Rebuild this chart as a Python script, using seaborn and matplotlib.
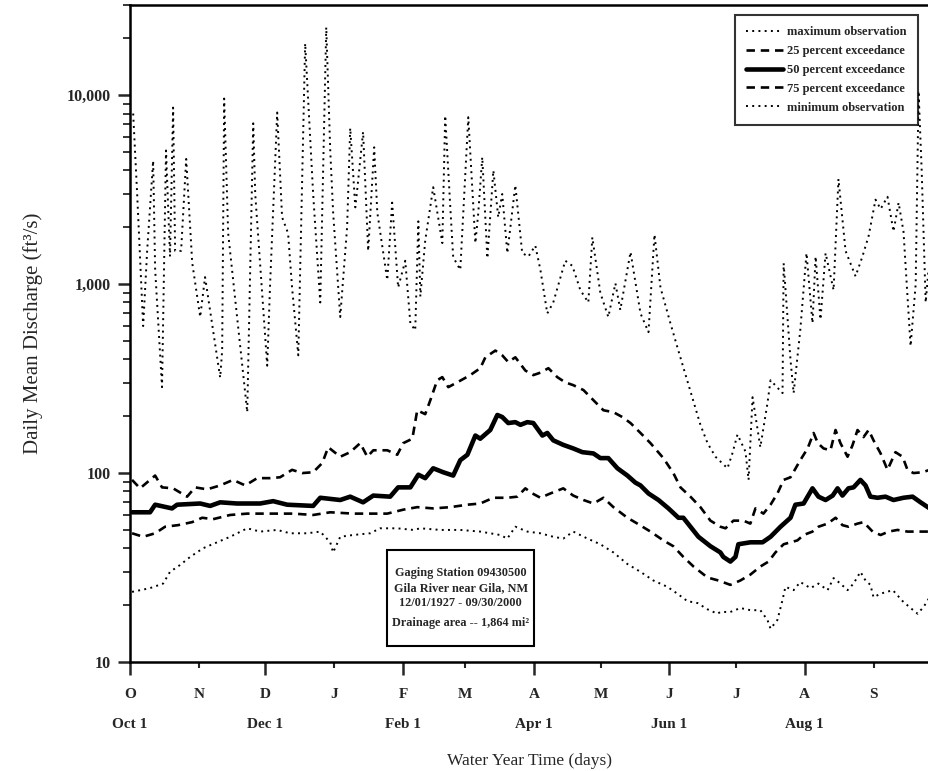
import matplotlib
matplotlib.use('Agg')
import matplotlib.pyplot as plt
import matplotlib.ticker as mticker
from matplotlib.patches import Rectangle
import pandas as pd
import seaborn as sns

# ---- data (day of water year, discharge ft3/s) ----
max_days = [1.4, 3.2, 5.9, 7.7, 10.4, 11.3, 14.4, 16.2, 18, 19.4, 20.3, 23, 25.3, 28,
            31.6, 33.8, 40.6, 41.5, 42.4, 44.2, 52.8, 55.5, 56.4, 61.8, 63.1, 66.3,
            68.5, 71.2, 73, 75.8, 78.9, 82.5, 85.7, 88.4, 90.2, 91.5, 94.7, 97.8,
            99.2, 101.5, 102.4, 105, 107.3, 110, 111.4, 115.9, 118.1, 120.8, 124,
            126.3, 128.5, 129.9, 130.8, 133, 136.6, 140.7, 142, 144.3, 145.6, 148.8,
            152.4, 155.6, 156.9, 158.7, 161, 163.7, 165.9, 167.7, 170, 173.6, 176.7,
            179.5, 182.6, 184.9, 188, 190.7, 196.1, 199.3, 202.9, 206.5, 208.3,
            211.9, 215.5, 218.7, 220.9, 225.5, 230, 233.6, 236.3, 239, 243.5, 246.6,
            257, 260.2, 263.8, 269.2, 271.4, 273.7, 277.3, 278.7, 280.5, 284, 287.2,
            288.6, 294, 294.5, 297.6, 299, 302, 304.8, 307.5, 308.9, 311.1, 313.4,
            317, 319.2, 322.4, 326.9, 330, 332.8, 335.9, 338.2, 341.3, 344, 346.3,
            348.5, 351.7, 354, 355.3, 356.7, 358.5, 359.8]
max_vals = [8000, 3000, 600, 1500, 4500, 1200, 285, 5100, 1400, 8600, 1500, 1500, 4600, 1300,
            670, 1090, 320, 445, 9600, 1860, 210, 7100, 3000, 370, 1000, 8100,
            2260, 1860, 960, 420, 18800, 3000, 800, 22900, 5100, 2400, 670, 2000,
            6700, 2550, 3200, 6400, 1500, 5300, 2400, 1050, 2700, 960, 1330,
            620, 570, 2150, 860, 1700, 3260, 1650, 7800, 2550, 1390, 1190,
            7650, 1650, 2380, 4700, 1370, 4000, 2260, 3000, 1460, 3340, 1460,
            1400, 1600, 1190, 700, 800, 1330, 1250, 930, 800, 1770,
            900, 670, 1010, 730, 1480, 700, 557, 1830, 960, 620, 464,
            180, 144, 122, 106, 127, 160, 130, 92, 252, 137, 234,
            310, 265, 1290, 396, 265, 571, 1460, 622, 1400, 650, 1460,
            930, 3600, 1500, 1100, 1400, 1800, 2800, 2500, 2900, 1900, 2700,
            1900, 470, 1000, 10500, 4000, 800, 1200]

p25_days = [0.9, 4.5, 11.3, 14.4, 19.4, 25.7, 29.3, 34.7, 40.6, 46.4, 51.9, 57.3, 63.1,
            67.6, 73, 77.6, 82.5, 86.6, 89.3, 94.7, 99.2, 103.7, 106.9, 109.6, 115.9,
            120.4, 123.1, 127.2, 129.4, 133, 135.3, 138.4, 140.7, 143.4, 147.4, 153.3,
            157.8, 160.1, 164.6, 167.7, 170.4, 173.6, 178.1, 181.7, 184.9, 188.5,
            192.5, 196.1, 199.7, 204.3, 208.8, 213.3, 217.8, 221.8, 225.5, 230,
            234.5, 240.3, 244.8, 248, 252.5, 257, 261.5, 266, 268.3, 271.9, 276.4,
            279.5, 281.8, 285.4, 288.6, 291.7, 294.5, 297.6, 302, 305.3, 308, 309.9,
            312.5, 315.6, 317.9, 320.1, 323.3, 325.5, 327.8, 330.5, 332.8, 335,
            338.2, 341.3, 344.9, 348.1, 350.3, 353, 357.1, 360.3]
p25_vals = [92, 83, 97, 84, 83, 75, 84, 82, 86, 92, 86, 94, 94,
            95, 104, 100, 101, 113, 137, 122, 129, 144, 122, 132, 132,
            125, 144, 152, 215, 205, 243, 310, 322, 285, 302, 330,
            359, 410, 445, 420, 387, 410, 349, 330, 340, 359,
            322, 302, 292, 275, 243, 215, 210, 198, 184, 163,
            144, 120, 100, 84, 75, 66, 56, 52, 51, 56, 56,
            54, 65, 61, 68, 78, 92, 95, 117, 135, 163, 144,
            135, 132, 169, 144, 122, 140, 169, 155, 169, 149,
            127, 104, 129, 122, 104, 100, 101, 104]

p50_days = [0.9, 9, 11.3, 18.9, 21.2, 31.6, 36.1, 40.6, 48.2, 58.6, 64.5, 70.8, 82.5,
            85.7, 94.7, 99.2, 105, 109.6, 117.2, 120.8, 126.3, 129.9, 133, 136.6,
            141.1, 145.6, 148.8, 152, 155.6, 157.8, 162.3, 165.5, 167.7, 170.4,
            173.6, 175.9, 179, 181.7, 185.8, 188, 190.7, 195.2, 199.7, 203.8, 208.8,
            211.9, 215.5, 219.6, 224.1, 227.7, 230, 233.6, 238.1, 242.6, 247.1,
            249.3, 252.5, 256.1, 261.5, 266, 267.3, 270.5, 272.8, 274.1, 279.5, 285,
            288.6, 293.1, 297.6, 299.8, 303.5, 307.5, 310.2, 313.4, 316.6, 318.8,
            321, 323.7, 326, 329.1, 331.4, 333.6, 336.8, 340.4, 344, 348.5, 352.6,
            356.2, 360.3]
p50_vals = [62, 62, 68, 65, 68, 69, 67, 70, 69, 69, 71, 68, 67,
            74, 72, 75, 70, 76, 75, 84, 84, 98, 94, 106,
            101, 97, 117, 125, 158, 152, 169, 203, 198, 184,
            186, 180, 186, 184, 158, 163, 149, 141, 135, 129, 127,
            120, 120, 106, 97, 89, 86, 78, 72, 65, 58,
            58, 52, 46, 41, 38, 36, 34, 36, 42, 43, 43,
            46, 52, 58, 68, 69, 83, 75, 72, 76, 83,
            76, 83, 84, 92, 86, 75, 74, 75, 72, 74, 75,
            70, 65]

p75_days = [0.9, 5.9, 11.3, 15.8, 21.6, 28, 32.5, 37.4, 45.1, 52.8, 64.5, 73.5, 82.5,
            90.2, 100.5, 109.6, 115.9, 123.1, 129.4, 136.6, 144.3, 152, 157.8, 163.7,
            170, 174.5, 178.1, 181.3, 184.9, 189.4, 195.2, 199.7, 204.3, 208.8,
            213.3, 217.8, 224.1, 228.6, 234.5, 240.3, 244.8, 249.3, 253.9, 260.2,
            265.1, 270.5, 275, 279.5, 284, 287.7, 290.8, 294.5, 297.6, 300.7, 303.5,
            307.5, 310.2, 314.3, 317.9, 321, 323.7, 327.8, 330.5, 334.6, 338.2,
            341.8, 345.8, 350.3, 354.9, 360.3]
p75_vals = [48, 46, 48, 52, 53, 55, 58, 57, 60, 61, 61, 61, 60,
            62, 61, 61, 61, 64, 66, 65, 66, 68, 69, 74,
            74, 75, 83, 78, 74, 78, 83, 76, 72, 69,
            74, 66, 58, 54, 49, 44, 41, 36, 32, 28,
            27, 25.6, 27, 29, 32, 34, 38, 42, 43, 44, 47,
            49, 52, 54, 58, 53, 52, 54, 55, 49, 47,
            49, 50, 49, 49, 49]

min_days = [0.9, 9, 14.9, 18, 22.5, 27.1, 32.9, 39.2, 45.1, 52.8, 58.6, 66.3, 72.1, 79.8,
            85.7, 90.2, 91.5, 94.7, 100.5, 108.2, 112.7, 120.4, 127.6, 130.8, 139.8,
            148.8, 157.8, 166.8, 170, 173.6, 179, 184.9, 190.7, 195.2, 199.7, 206.1,
            211.9, 217.8, 224.1, 230, 235.8, 242.1, 246.6, 251.1, 255.7, 260.2, 264.7,
            266, 270.5, 275, 279.5, 284, 287.2, 288.6, 291.7, 294, 295.3, 299, 302,
            306.6, 310.2, 314.3, 317, 320.1, 323.3, 326, 329.1, 331.4, 333.6, 335,
            338.2, 343.7, 348.1, 351.7, 354.9, 357.6, 360.3]
min_vals = [23.5, 24.6, 26, 30, 32.6, 36, 40, 43, 46, 51, 49, 50, 48, 48,
            49, 43, 38, 46, 47, 48, 51, 51, 50, 51, 50,
            50, 49, 47, 45, 52, 49, 48, 46, 45, 49, 45,
            42, 38, 33, 30, 27, 25, 23, 21, 20.5, 19, 18,
            18.4, 18.4, 19.3, 18.8, 18.8, 16.7, 15, 16.7, 21.3, 25, 24, 26.5,
            24.6, 26, 24, 27.8, 26, 24, 26, 30, 27, 25.6, 22,
            23, 24, 21, 19.3, 18, 19.6, 22]

series_labels = ['maximum observation', '25 percent exceedance', '50 percent exceedance',
                 '75 percent exceedance', 'minimum observation']

major_ticks = [0, 61, 123, 182, 243, 304]
major_labels = ['O\nOct 1', 'D\nDec 1', 'F\nFeb 1', 'A\nApr 1', 'J\nJun 1', 'A\nAug 1']
minor_ticks = [31, 92, 151, 212, 273, 335]
minor_labels = ['N', 'J', 'M', 'M', 'J', 'S']

y_ticks = [10, 100, 1000, 10000]
y_labels = ['10', '100', '1,000', '10,000']

station_lines = ['Gaging Station 09430500', 'Gila River near Gila, NM',
                 '12/01/1927 - 09/30/2000', 'Drainage area -- 1,864 mi\u00b2']

# ---- style ----
sns.set_theme(style="ticks")
plt.rcParams['font.family'] = ['Liberation Serif', 'DejaVu Serif']
plt.rcParams['axes.linewidth'] = 1.8

fig = plt.figure(figsize=(9.29, 7.71), dpi=100)
ax = fig.add_axes([0.140, 0.1414, 0.86, 0.852])

dotted = (0, (1, 2.2))
dashed = (0, (3.2, 2.2))
styles = [
    (max_days, max_vals, dotted, 1.4),
    (p25_days, p25_vals, dashed, 1.9),
    (p50_days, p50_vals, '-', 3.3),
    (p75_days, p75_vals, dashed, 1.9),
    (min_days, min_vals, dotted, 1.4),
]
for (d, v, ls, lw), lab in zip(styles, series_labels):
    df = pd.DataFrame({'day': d, 'q': v})
    sns.lineplot(data=df, x='day', y='q', ax=ax, color='black', linestyle=ls,
                 linewidth=lw, label=lab, estimator=None, sort=False)

ax.set_yscale('log')
ax.set_xlim(0, 360)
ax.set_ylim(10, 30000)

ax.set_yticks(y_ticks)
ax.set_yticklabels(y_labels)
ax.yaxis.set_minor_locator(mticker.LogLocator(base=10, subs=range(2, 10)))
ax.yaxis.set_minor_formatter(mticker.NullFormatter())
ax.tick_params(axis='y', which='major', direction='out', length=9, width=1.8, pad=5,
               labelsize=11.5, left=True)
ax.tick_params(axis='y', which='minor', direction='out', length=5, width=1.3, left=True)
for t in ax.get_yticklabels():
    t.set_fontweight('bold')

ax.set_xticks(major_ticks)
ax.set_xticklabels(major_labels)
ax.set_xticks(minor_ticks, minor=True)
ax.set_xticklabels(minor_labels, minor=True)
ax.tick_params(axis='x', which='major', direction='out', length=9.5, width=1.8, pad=9,
               labelsize=11, bottom=True)
ax.tick_params(axis='x', which='minor', direction='out', length=4.5, width=1.5, pad=14,
               labelsize=11, bottom=True)
for t in ax.get_xticklabels():
    t.set_fontweight('bold')
    t.set_linespacing(2.7)
for t in ax.get_xticklabels(minor=True):
    t.set_fontweight('bold')

for s in ['left', 'bottom', 'top']:
    ax.spines[s].set_linewidth(1.8)
    ax.spines[s].set_color('black')
ax.spines['right'].set_visible(False)

ax.set_ylabel('Daily Mean Discharge (ft\u00b3/s)', fontsize=15, labelpad=17)
ax.set_xlabel('Water Year Time (days)', fontsize=12.5, labelpad=16)

leg = ax.legend(loc='upper right', bbox_to_anchor=(0.986, 0.985), borderaxespad=0,
                fancybox=False, frameon=True, handlelength=3.0, handletextpad=0.3,
                labelspacing=0.55, borderpad=0.9, prop={'weight': 'bold', 'size': 9})
leg.get_frame().set_edgecolor('black')
leg.get_frame().set_linewidth(1.5)

ax.add_patch(Rectangle((0.322, 0.024), 0.184, 0.146, transform=ax.transAxes,
                       facecolor='white', edgecolor='black', linewidth=1.5, zorder=5))
for line, yy in zip(station_lines, [0.1355, 0.1126, 0.0898, 0.0594]):
    ax.text(0.414, yy, line, transform=ax.transAxes, ha='center', va='center',
            fontsize=8.8, fontweight='bold', zorder=6)

ax.grid(False)
fig.savefig('out.png', dpi=100)
